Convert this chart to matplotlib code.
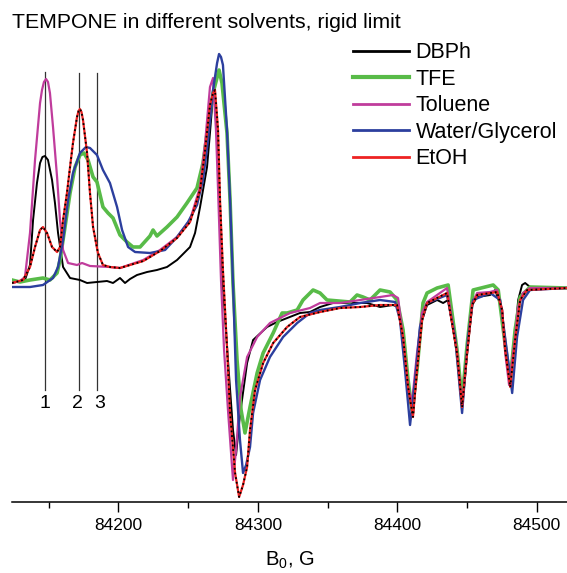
import matplotlib
matplotlib.use("Agg")
import matplotlib.pyplot as plt
from matplotlib.ticker import MultipleLocator

plt.rcParams['font.family'] = ['Liberation Sans', 'DejaVu Sans']
plt.rcParams['mathtext.fontset'] = 'custom'
plt.rcParams['mathtext.rm'] = 'Liberation Sans'
plt.rcParams['mathtext.it'] = 'Liberation Sans:italic'

# ---------------- data (field in G, intensity in arbitrary units) ----------------
dbph_B = [84123.8, 84133.1, 84136.7, 84138.9, 84141.7, 84143.9, 84145.6, 84147.4, 84149.6, 84152.5, 84154.6,
          84156.8, 84160.4, 84165.4, 84172.5, 84177.6, 84184.7, 84191.9, 84196.2, 84201.2, 84204.8,
          84208.4, 84213.4, 84220.6, 84227.7, 84234.9, 84242.1, 84245.7, 84251.4, 84255.0, 84258.6,
          84263.6, 84265.7, 84267.9, 84268.6, 84270.8, 84272.9, 84274.3, 84278.6, 84282.2, 84284.4,
          84287.2, 84292.3, 84296.6, 84306.6, 84313.8, 84330.2, 84337.4, 84344.6, 84353.9, 84366.1,
          84378.3, 84387.6, 84396.9, 84400.5, 84404.1, 84407.7, 84411.2, 84414.1, 84417.7, 84421.3,
          84428.5, 84432.8, 84436.4, 84442.8, 84446.4, 84450.0, 84453.6, 84457.2, 84466.5, 84470.1,
          84475.1, 84477.3, 84480.9, 84484.4, 84486.6, 84489.4, 84491.6, 84495.1, 84521.6]
dbph_I = [5, 8, 23, 68, 105, 125, 131, 132, 128, 108, 85,
          55, 21, 10, 8, 5, 6, 7, 5, 10, 5,
          9, 13, 16, 18, 21, 28, 33, 41, 55, 81,
          121, 155, 193, 200, 148, 81, 15, -72, -142, -167,
          -127, -75, -52, -39, -34, -25, -24, -19, -15, -15,
          -15, -19, -17, -19, -52, -102, -127, -82, -32, -17,
          -12, -15, -12, -65, -119, -65, -17, -9, -7, -2,
          -22, -62, -97, -47, -12, 3, 5, 1, 0]

tfe_B = [84123.8, 84129.5, 84136.7, 84146.0, 84151.0, 84156.1, 84158.2, 84161.8, 84165.4, 84169.0,
         84172.5, 84175.4, 84178.3, 84181.9, 84184.7, 84189.0, 84192.6, 84196.2, 84201.2, 84206.2,
         84210.5, 84215.6, 84222.7, 84224.9, 84227.7, 84234.9, 84242.1, 84249.2, 84256.4, 84260.7,
         84264.3, 84267.9, 84272.2, 84274.3, 84277.9, 84280.1, 84282.2, 84285.1, 84288.0, 84290.8,
         84294.4, 84299.5, 84303.8, 84311.0, 84317.4, 84321.0, 84328.2, 84332.4, 84339.6, 84344.6,
         84349.6, 84366.1, 84371.1, 84375.4, 84380.4, 84387.6, 84394.8, 84399.8, 84404.1, 84407.7,
         84410.5, 84414.1, 84418.4, 84421.3, 84428.5, 84436.4, 84442.8, 84446.4, 84450.0, 84454.3,
         84468.7, 84472.3, 84477.3, 84480.9, 84484.4, 84488.0, 84495.1, 84521.6]
tfe_I = [8, 6, 8, 10, 8, 15, 28, 61, 95, 121,
         133, 135, 128, 111, 106, 81, 75, 70, 53, 46,
         41, 41, 52, 58, 52, 61, 71, 85, 100, 125,
         161, 195, 218, 205, 155, 88, 5, -72, -122, -145,
         -119, -85, -65, -45, -25, -25, -22, -12, -2, -5,
         -12, -14, -7, -9, -12, -2, -4, -12, -42, -92,
         -122, -82, -15, -5, 0, 3, -62, -112, -57, -2,
         3, -2, -57, -92, -42, -9, 1, 0]

tol_B = [84123.8, 84129.5, 84133.1, 84136.7, 84140.3, 84143.9, 84145.3, 84146.7, 84148.2, 84149.6, 84151.0,
         84153.2, 84156.1, 84158.2, 84160.4, 84164.0, 84170.4, 84174.0, 84179.7, 84194.0, 84201.2, 84217.9,
         84229.9, 84242.1, 84251.4, 84258.6, 84262.2, 84265.7, 84267.9, 84270.0, 84271.5, 84273.6,
         84275.8, 84278.6, 84282.2, 84284.4, 84287.2, 84292.3, 84299.5, 84308.7, 84323.1, 84337.4,
         84344.6, 84358.9, 84373.3, 84387.6, 84396.9, 84400.5, 84404.1, 84407.7, 84410.5, 84414.1,
         84417.7, 84421.3, 84423.4, 84435.6, 84442.8, 84446.4, 84450.0, 84453.6, 84457.2, 84466.5,
         84471.5, 84475.1, 84477.3, 84480.1, 84484.4, 84486.6, 84490.1, 84495.1, 84521.6]
tol_I = [5, 7, 11, 55, 128, 185, 198, 206, 209, 206, 195,
         161, 111, 68, 38, 25, 23, 25, 22, 21, 20, 28,
         38, 51, 68, 101, 145, 201, 210, 158, 98, 8,
         -62, -122, -192, -162, -109, -69, -49, -35, -25, -20,
         -15, -15, -12, -9, -7, -10, -49, -99, -115, -65,
         -25, -14, -12, 0, -65, -119, -65, -15, -5, -4,
         -2, -22, -65, -97, -49, -19, -5, 0, 0]

wg_B = [84123.8, 84136.7, 84146.0, 84153.2, 84156.8, 84160.4, 84164.0, 84167.5, 84172.5, 84176.8,
        84179.7, 84184.7, 84189.0, 84194.0, 84199.1, 84202.7, 84207.0, 84212.0, 84222.7, 84233.5,
        84242.1, 84250.0, 84256.4, 84260.7, 84264.3, 84267.9, 84270.8, 84272.2, 84273.6, 84275.0,
        84277.9, 84280.1, 84282.2, 84284.4, 84287.2, 84289.4, 84291.6, 84294.4, 84296.6, 84301.6,
        84308.7, 84318.1, 84328.2, 84337.4, 84344.6, 84358.9, 84373.3, 84387.6, 84398.4, 84401.9,
        84405.5, 84409.1, 84412.7, 84416.2, 84421.3, 84435.6, 84441.4, 84446.4, 84450.7, 84454.3,
        84466.5, 84473.7, 84478.7, 84482.3, 84485.8, 84490.1, 84495.1, 84521.6]
wg_I = [1, 1, 3, 10, 21, 48, 88, 115, 135, 141,
        140, 133, 118, 105, 81, 58, 41, 36, 35, 38,
        51, 66, 83, 108, 148, 198, 225, 234, 231, 223,
        158, 88, 5, -92, -152, -185, -177, -159, -125, -92,
        -69, -49, -35, -25, -22, -19, -15, -12, -14, -32,
        -82, -137, -92, -39, -15, -7, -49, -125, -49, -12,
        -5, -12, -65, -105, -49, -12, -2, 0]

etoh_B = [84123.8, 84131.7, 84136.7, 84140.3, 84143.9, 84146.0, 84148.9, 84152.5, 84156.1, 84158.2,
          84160.4, 84163.2, 84165.4, 84167.5, 84170.4, 84171.5, 84172.5, 84173.6, 84174.7, 84177.6, 84179.7, 84181.9,
          84185.4, 84189.0, 84194.0, 84201.2, 84217.9, 84229.9, 84242.1, 84251.4, 84258.6, 84262.2,
          84265.7, 84267.9, 84269.3, 84271.5, 84272.9, 84275.0, 84277.9, 84280.1, 84283.7, 84286.6,
          84289.4, 84292.3, 84294.4, 84298.0, 84303.8, 84311.0, 84321.0, 84330.2, 84344.6, 84358.9,
          84373.3, 84387.6, 84399.8, 84404.1, 84407.7, 84411.2, 84414.1, 84417.7, 84421.3, 84435.6,
          84442.8, 84446.4, 84450.0, 84453.6, 84457.2, 84471.5, 84475.1, 84477.3, 84480.9, 84484.4,
          84488.0, 84493.0, 84521.6]
etoh_I = [5, 8, 21, 41, 58, 61, 55, 41, 36, 41,
          68, 95, 121, 145, 171, 177, 179, 176, 168, 135, 95, 61,
          35, 23, 21, 20, 27, 37, 50, 66, 98, 138,
          183, 195, 198, 158, 88, 18, -59, -125, -185, -209,
          -197, -179, -142, -102, -75, -55, -39, -29, -24, -20,
          -19, -17, -17, -49, -99, -129, -82, -32, -15, -5,
          -65, -119, -65, -17, -7, -4, -22, -62, -99, -52,
          -12, -2, 0]

series_names = ["DBPh", "TFE", "Toluene", "Water/Glycerol", "EtOH"]
marker_B = [84147.4, 84172.0, 84184.5]
marker_labels = ["1", "2", "3"]
marker_label_B = [84147.4, 84170.4, 84186.9]
marker_top = [216, 215, 215]
marker_bottom = -102
marker_label_I = -115
xticks_major = [84200, 84300, 84400, 84500]

# ---------------- figure ----------------
W, H = 567, 573
fig = plt.figure(figsize=(W / 100, H / 100), dpi=100)
ax = fig.add_axes([12 / W, 1 - 501.7 / H, (567 - 12) / W, (501.7 - 30) / H])
ax.set_xlim(84123.8, 84521.6)
ax.set_ylim(-213.7, 258)

for xb, yt in zip(marker_B, marker_top):
    ax.plot([xb, xb], [marker_bottom, yt], color='#333333', lw=0.9, zorder=1)
for xb, lab in zip(marker_label_B, marker_labels):
    ax.text(xb, marker_label_I, lab, ha='center', va='center', fontsize=14)

ax.plot(dbph_B, dbph_I, color='#000000', lw=1.4, label=series_names[0], zorder=2)
ax.plot(tfe_B, tfe_I, color='#58bb48', lw=2.6, label=series_names[1], zorder=2)
ax.plot(tol_B, tol_I, color='#c03c9c', lw=1.6, label=series_names[2], zorder=3)
ax.plot(wg_B, wg_I, color='#2c3f9e', lw=1.7, label=series_names[3], zorder=3)
ax.plot(etoh_B, etoh_I, color='#ee2222', lw=1.6, label=series_names[4], zorder=4)
ax.plot(etoh_B, etoh_I, color='#000000', lw=1.3, linestyle=(0, (1, 1.6)), zorder=5)

for s in ['left', 'right', 'top']:
    ax.spines[s].set_visible(False)
ax.spines['bottom'].set_linewidth(1.1)
ax.set_yticks([])
ax.set_xticks(xticks_major)
ax.set_xticklabels([str(v) for v in xticks_major])
ax.xaxis.set_minor_locator(MultipleLocator(50))
ax.tick_params(axis='x', which='major', direction='out', length=7, width=1, pad=5, labelsize=12.5)
ax.tick_params(axis='x', which='minor', direction='out', length=4.5, width=1)

ax.set_xlabel(r'B$_{\mathrm{0}}$, G', fontsize=14.5, labelpad=12)

fig.text(12 / W, 1 - 22 / H, 'TEMPONE in different solvents, rigid limit', fontsize=15.3,
         ha='left', va='center')

leg = ax.legend(loc='upper left', bbox_to_anchor=(353 / W, 1 - 42.5 / H),
                bbox_transform=fig.transFigure, frameon=False, fontsize=15.5,
                handlelength=2.6, handletextpad=0.3, labelspacing=0.255,
                borderpad=0, borderaxespad=0)
for line in leg.get_lines():
    line.set_linewidth(2.0)
leg.get_lines()[1].set_linewidth(3.0)

fig.savefig('out.png', dpi=100)
